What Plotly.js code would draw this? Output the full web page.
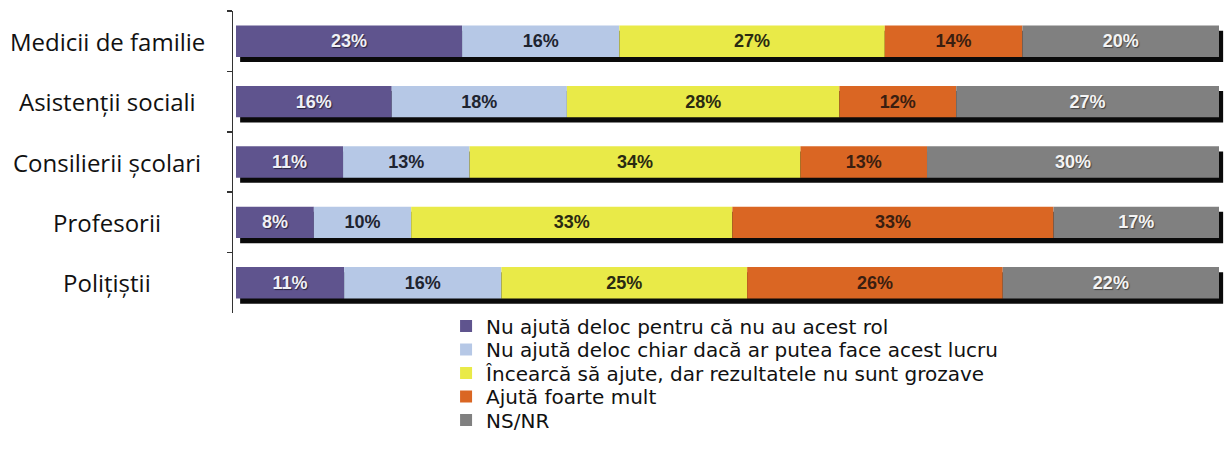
<!DOCTYPE html>
<html>
<head>
<meta charset="utf-8">
<script src="https://cdn.plot.ly/plotly-3.0.1.min.js"></script>
<style>html,body{margin:0;padding:0;background:#fff;}#chart{width:1227px;height:457px;}</style>
</head>
<body>
<div id="chart"></div>
<script>
const categories = ["Medicii de familie", "Asistenții sociali", "Consilierii școlari", "Profesorii", "Polițiștii"];
const seriesNames = [
  "Nu ajută deloc pentru că nu au acest rol",
  "Nu ajută deloc chiar dacă ar putea face acest lucru",
  "Încearcă să ajute, dar rezultatele nu sunt grozave",
  "Ajută foarte mult",
  "NS/NR"
];
const nuRol      = [23, 16, 11, 8, 11];
const nuChiar    = [16, 18, 13, 10, 16];
const incearca   = [27, 28, 34, 33, 25];
const ajutaMult  = [14, 12, 13, 33, 26];
const nsnr       = [20, 27, 30, 17, 22];

const series = [nuRol, nuChiar, incearca, ajutaMult, nsnr];
const colors = ["#5F548E", "#B6C8E6", "#E9EA48", "#DA6623", "#808080"];
const textColors = ["#F0F0F6", "#1E2430", "#2A2A12", "#3A1E10", "#F4F4F4"];
const textShadows = ["1px 1px 1px #2a2540", "none", "none", "none", "1px 1px 1px #444"];

const totals = categories.map((c, i) => series.reduce((s, arr) => s + arr[i], 0));
const BW = 0.52;
const traces = [];

// drop shadow under each bar row
traces.push({
  type: "bar", orientation: "h", y: categories,
  x: totals.map(() => 100), base: totals.map(() => 0.42),
  width: BW, offset: -BW / 2 + 0.085,
  marker: {color: "#0a0a0a", line: {width: 0}},
  showlegend: false, hoverinfo: "skip"
});

const legendIds = ["legend", "legend2", "legend3", "legend4", "legend5"];
const cum = totals.map(() => 0);
series.forEach((arr, k) => {
  const xs = arr.map((v, i) => v / totals[i] * 100);
  const bases = cum.slice();
  xs.forEach((v, i) => { cum[i] += v; });
  traces.push({
    type: "bar", orientation: "h", name: seriesNames[k], y: categories,
    x: xs, base: bases, width: BW, offset: -BW / 2,
    legend: legendIds[k],
    marker: {color: colors[k], line: {width: 0}},
    text: arr.map(v => v + "%"), textposition: "inside", insidetextanchor: "middle",
    textangle: 0, constraintext: "none",
    textfont: {family: "Liberation Sans, Arial, sans-serif", size: 18, color: textColors[k], weight: "bold", shadow: textShadows[k]},
    hoverinfo: "skip"
  });
});

const annotations = categories.map(c => ({
  xref: "paper", yref: "y", x: -0.1271, y: c, text: c, showarrow: false,
  xanchor: "center", yanchor: "middle",
  font: {family: "Open Sans, sans-serif", size: 24, color: "#111"}
}));

const plotTop = 11, plotBottom = 313, plotH = plotBottom - plotTop;
const legendRowsPx = [326, 349.5, 373, 396.5, 420];

const layout = {
  width: 1227, height: 457,
  margin: {l: 233, r: 3, t: plotTop, b: 457 - plotBottom},
  paper_bgcolor: "#fff", plot_bgcolor: "#fff",
  barmode: "overlay",
  showlegend: true,
  xaxis: {range: [-0.305, 100.509], visible: false, fixedrange: true},
  yaxis: {
    type: "category", categoryorder: "array", categoryarray: categories,
    range: [4.5, -0.5], showticklabels: false,
    showline: true, linecolor: "#333", linewidth: 1.5,
    ticks: "outside", tickson: "boundaries", ticklen: 5, tickcolor: "#333", tickwidth: 1.5,
    showgrid: false, zeroline: false, fixedrange: true
  },
  annotations: annotations
};
legendIds.forEach((id, k) => {
  layout[id] = {
    x: 0.215, xanchor: "left",
    y: (plotBottom - legendRowsPx[k]) / plotH, yanchor: "middle",
    font: {family: "DejaVu Sans, sans-serif", size: 20, color: "#111"},
    bgcolor: "rgba(0,0,0,0)", borderwidth: 0
  };
});

Plotly.newPlot("chart", traces, layout, {displayModeBar: false, staticPlot: true});
</script>
</body>
</html>
